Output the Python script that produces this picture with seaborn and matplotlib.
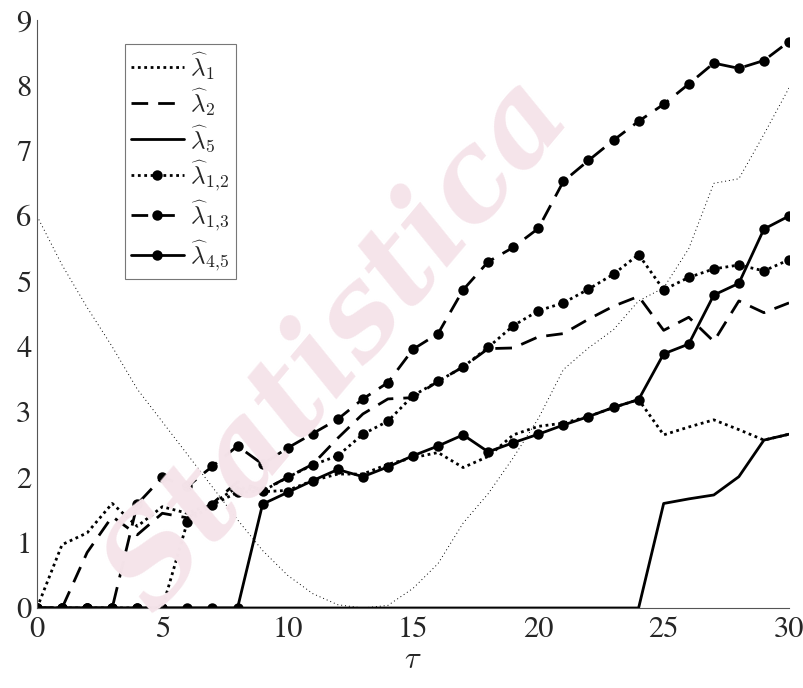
import numpy as np
import pandas as pd
import matplotlib
matplotlib.use("Agg")
import matplotlib.pyplot as plt
import seaborn as sns

# ---------------- data ----------------
tau = list(range(31))
lam_1 = [0, 0.97, 1.15, 1.6, 1.25, 1.55, 1.45, 1.6, 1.85, 1.78, 1.8, 1.95, 2.05, 2.05, 2.2,
         2.3, 2.38, 2.15, 2.32, 2.65, 2.78, 2.83, 2.93, 3.07, 3.19, 2.65, 2.77, 2.88, 2.73, 2.57, 2.66]
lam_2 = [0, 0, 0.85, 1.4, 1.12, 1.45, 1.38, 1.6, 1.93, 1.8, 2.0, 2.2, 2.6, 2.97, 3.2,
         3.22, 3.47, 3.69, 3.97, 3.98, 4.15, 4.2, 4.42, 4.62, 4.77, 4.25, 4.45, 4.08, 4.7, 4.52, 4.67]
lam_5 = [0] * 25 + [1.6, 1.67, 1.73, 2.01, 2.57, 2.66]
lam_12 = [0, 0, 0, 0, 0, 0, 1.32, 1.58, 1.77, 1.79, 2.0, 2.19, 2.33, 2.66, 2.86, 3.25,
          3.47, 3.69, 3.99, 4.32, 4.55, 4.67, 4.88, 5.11, 5.41, 4.87, 5.06, 5.19, 5.25, 5.16, 5.33]
lam_13 = [0, 0, 0, 0, 1.59, 2.0, 1.86, 2.17, 2.48, 2.2, 2.45, 2.67, 2.89, 3.2, 3.45, 3.96,
          4.2, 4.87, 5.3, 5.52, 5.81, 6.53, 6.85, 7.16, 7.45, 7.71, 8.02, 8.34, 8.26, 8.38, 8.67]
lam_45 = [0] * 9 + [1.59, 1.77, 1.95, 2.12, 2.01, 2.16, 2.33, 2.48, 2.65, 2.39, 2.53, 2.66,
                    2.8, 2.93, 3.07, 3.19, 3.89, 4.04, 4.79, 4.97, 5.8, 6.0]
bound = [6.0, 5.25, 4.6, 4.0, 3.35, 2.85, 2.35, 1.85, 1.35, 0.88, 0.5, 0.22, 0.05, 0.0, 0.04,
         0.3, 0.68, 1.3, 1.75, 2.3, 2.9, 3.65, 3.98, 4.26, 4.7, 4.9, 5.5, 6.5, 6.57, 7.25, 7.96]

labels = [r"$\widehat{\lambda}_1$", r"$\widehat{\lambda}_2$", r"$\widehat{\lambda}_5$",
          r"$\widehat{\lambda}_{1,\!2}$", r"$\widehat{\lambda}_{1,\!3}$", r"$\widehat{\lambda}_{4,\!5}$"]
xticks = [0, 5, 10, 15, 20, 25, 30]
yticks = list(range(10))

# ---------------- style ----------------
sns.set_theme(style="white")
plt.rcParams["font.family"] = ["STIXGeneral", "DejaVu Serif"]
plt.rcParams["mathtext.fontset"] = "cm"

fig = plt.figure(figsize=(8.04, 6.88), dpi=100)
ax = fig.add_axes([37 / 804, 1 - 608 / 688, 752 / 804, 588 / 688])

# watermark
fig.text(0.42, 0.50, "Statistica", rotation=50, fontsize=88, fontstyle="italic",
         fontweight="bold", color="#f5e4ea", ha="center", va="center", zorder=0,
         family="DejaVu Serif")
ax.patch.set_alpha(0)

df = pd.DataFrame({"tau": tau, "l1": lam_1, "l2": lam_2, "l5": lam_5,
                   "l12": lam_12, "l13": lam_13, "l45": lam_45, "bound": bound})

lw = 2.0
dot = (0, (1.0, 1.3))
dash = (0, (6.0, 3.6))
ms = 7.5

sns.lineplot(data=df, x="tau", y="bound", ax=ax, color="black", linewidth=0.7,
             linestyle=(0, (1, 3)), legend=False)
sns.lineplot(data=df, x="tau", y="l1", ax=ax, color="black", linewidth=lw,
             linestyle=dot, label=labels[0])
sns.lineplot(data=df, x="tau", y="l2", ax=ax, color="black", linewidth=lw,
             linestyle=dash, label=labels[1])
sns.lineplot(data=df, x="tau", y="l5", ax=ax, color="black", linewidth=lw,
             linestyle="-", label=labels[2])
sns.lineplot(data=df, x="tau", y="l12", ax=ax, color="black", linewidth=lw,
             linestyle=dot, marker="o", markersize=ms, markeredgewidth=0, label=labels[3])
sns.lineplot(data=df, x="tau", y="l13", ax=ax, color="black", linewidth=lw,
             linestyle=dash, marker="o", markersize=ms, markeredgewidth=0, label=labels[4])
sns.lineplot(data=df, x="tau", y="l45", ax=ax, color="black", linewidth=lw,
             linestyle="-", marker="o", markersize=ms, markeredgewidth=0, label=labels[5])

ax.set_xlim(0, 30)
ax.set_ylim(0, 9)
ax.set_xticks(xticks)
ax.set_yticks(yticks)
ax.tick_params(direction="in", length=6, width=0.8, color="#555555",
               labelsize=22, labelcolor="#262626")
ax.tick_params(axis="x", pad=6)
ax.tick_params(axis="y", pad=4)
for s in ["top", "right"]:
    ax.spines[s].set_visible(False)
for s in ["left", "bottom"]:
    ax.spines[s].set_color("#555555")
    ax.spines[s].set_linewidth(0.8)
ax.set_xlabel(r"$\tau$", fontsize=22, labelpad=2)
ax.set_ylabel("")
for lab in ax.get_xticklabels() + ax.get_yticklabels():
    lab.set_family(["STIXGeneral", "DejaVu Serif"])

leg = ax.legend(loc="upper left", bbox_to_anchor=((125 - 37) / 752, (608 - 44) / 588),
                fontsize=18, frameon=True, fancybox=False, handlelength=2.1,
                handletextpad=0.25, labelspacing=0.2, borderpad=0.25, borderaxespad=0)
leg.get_frame().set_edgecolor("#555555")
leg.get_frame().set_linewidth(0.8)

fig.savefig("out.png", dpi=100)
